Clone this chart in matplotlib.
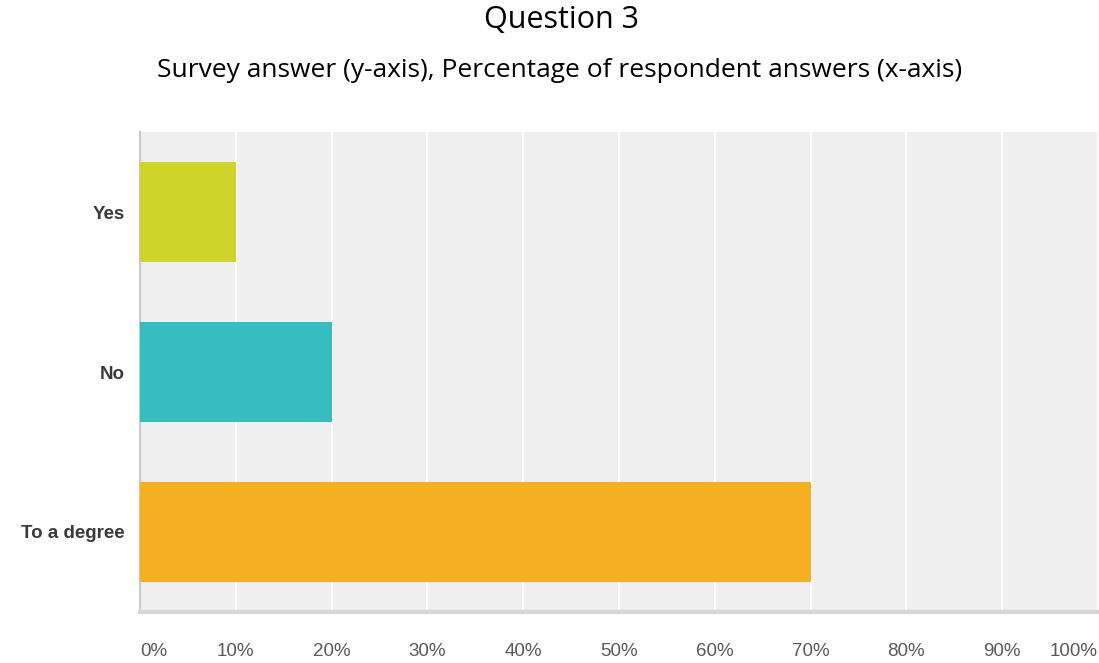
import matplotlib.pyplot as plt
import numpy as np

# ---- Data ----
answers = ["Yes", "No", "To a degree"]
percent = [10, 20, 70]
colors = ["#cfd42a", "#35bdbf", "#f5af20"]
xticks = [0, 10, 20, 30, 40, 50, 60, 70, 80, 90, 100]

W, H = 1099, 663
fig = plt.figure(figsize=(W / 100, H / 100), dpi=100)

# plot box in pixel coords -> figure fractions
x0, x1, ytop, ybot = 140, 1098, 132, 612
ax = fig.add_axes([x0 / W, 1 - ybot / H, (x1 - x0) / W, (ybot - ytop) / H])
ax.set_facecolor("#efefef")

y = np.arange(len(answers))
ax.barh(y, percent, height=0.625, color=colors, zorder=3)
ax.set_ylim(len(answers) - 0.5, -0.5)
ax.set_xlim(0, 100)

# white vertical grid
for t in xticks[1:]:
    ax.axvline(t, color="white", lw=1.5, zorder=1)

for s in ["top", "right"]:
    ax.spines[s].set_visible(False)
ax.spines["left"].set_color("#c8c8c8")
ax.spines["left"].set_linewidth(1.5)
ax.spines["bottom"].set_color("#d6d6d6")
ax.spines["bottom"].set_linewidth(3)

ax.set_yticks(y)
ax.set_yticklabels(answers, fontsize=13.5, fontweight="bold", color="#3a3a3a",
                   family="Liberation Sans")
ax.tick_params(axis="y", length=0, pad=11)

ax.set_xticks(xticks)
ax.set_xticklabels([f"{t}%" for t in xticks], fontsize=13.5, color="#5a5a5a",
                   family="Liberation Sans")
ax.tick_params(axis="x", length=0, pad=22)
labels = ax.get_xticklabels()
labels[0].set_ha("left")
labels[-1].set_ha("right")

fig.text(562 / W, 1 - 28 / H, "Question 3", ha="center", va="baseline",
         fontsize=22, family="Open Sans", color="black")
fig.text(560 / W, 1 - 77 / H,
         "Survey answer (y-axis), Percentage of respondent answers (x-axis)",
         ha="center", va="baseline", fontsize=19, family="Open Sans", color="black")

fig.savefig("out.png", dpi=100)
